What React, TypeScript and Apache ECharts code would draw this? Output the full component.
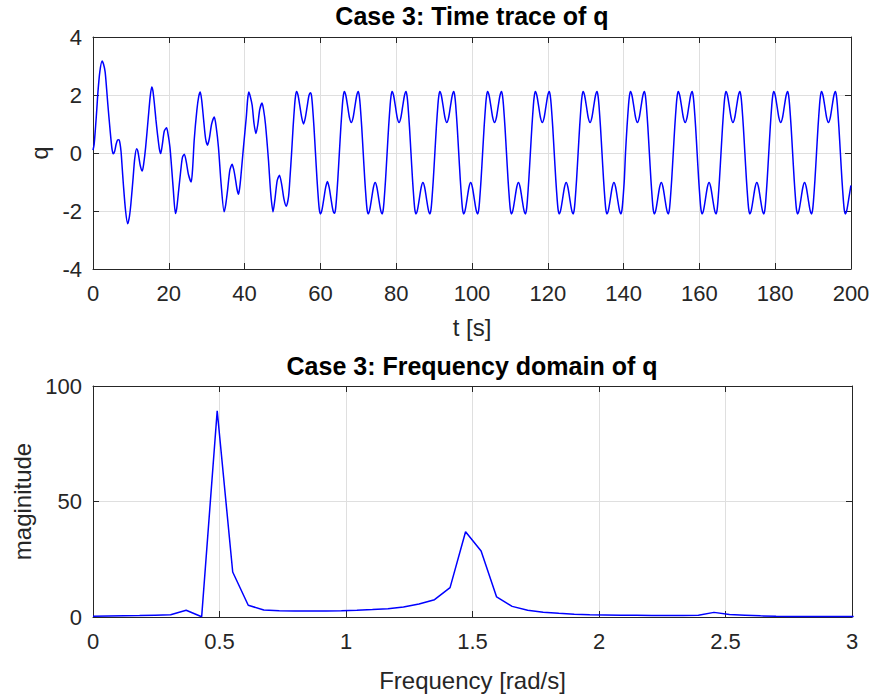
import React, { useEffect, useRef } from "react";
import * as echarts from "echarts";

const FONT = "'Liberation Sans', Arial, Helvetica, sans-serif";

// ---- Top plot: time trace of q, [t (s), q] ----
const transient: [number, number][] = [
  [0, 0.1], [0.3, 0.3], [0.7, 0.95], [1.0, 1.5], [1.3, 2.1], [1.8, 2.8], [2.4, 3.17], [2.8, 3.05], [3.2, 2.8], [3.6, 2.2],
  [3.9, 1.7], [4.5, 0.8], [5.0, 0.15], [5.35, -0.03], [5.7, 0.05], [6.1, 0.3], [6.5, 0.45], [6.85, 0.46], [7.1, 0.35], [7.4, 0.05],
  [7.7, -0.5], [8.0, -1.06], [8.6, -2.0], [9.15, -2.44], [9.6, -2.2], [10.0, -1.75], [10.6, -0.83], [11.0, -0.2], [11.5, 0.15], [11.8, 0.08],
  [12.1, -0.14], [12.5, -0.45], [13.0, -0.62], [13.4, -0.35], [13.9, 0.21], [14.6, 1.24], [15.1, 1.95], [15.5, 2.28], [15.8, 2.15], [16.2, 1.7],
  [16.6, 1.15], [17.0, 0.67], [17.5, 0.15], [17.85, -0.02], [18.3, 0.3], [18.8, 0.75], [19.4, 0.87], [19.8, 0.65], [20.3, 0.2], [20.8, -0.6],
  [21.2, -1.29], [21.75, -2.09], [22.1, -1.9], [22.6, -1.29], [23.2, -0.55], [23.6, -0.15], [24.1, -0.04], [24.6, -0.3], [25.2, -0.75], [25.9, -1.0],
  [26.3, -0.5], [26.7, 0.44], [27.4, 1.47], [27.9, 1.95], [28.3, 2.1], [28.7, 1.8], [29.2, 1.13], [29.7, 0.5], [30.2, 0.27], [30.7, 0.5],
  [31.3, 1.0], [32.0, 1.24], [32.5, 0.9], [33.1, 0.2], [33.8, -1.06], [34.6, -2.03], [35.0, -1.8], [35.5, -1.29], [36.1, -0.6], [36.7, -0.39],
  [37.1, -0.55], [37.5, -0.83], [38.0, -1.25], [38.4, -1.42], [38.7, -1.2], [39.0, -0.83], [39.7, 0.2], [40.45, 1.24], [40.8, 1.85], [41.1, 2.1],
  [41.5, 1.95], [42.0, 1.64], [42.5, 1.0], [43.0, 0.67], [43.5, 1.0], [44.0, 1.5], [44.6, 1.72], [45.0, 1.5], [45.5, 1.0], [46.3, -0.25],
  [46.9, -1.4], [47.5, -2.03], [48.0, -1.6], [48.6, -0.95], [49.2, -0.77], [49.8, -1.1], [50.4, -1.6], [51.0, -1.84], [51.6, -1.5], [52.0, -0.8],
];

const cycle01: [number, number][] = [
  [52.4, 0], [52.8, 0.9], [53.2, 1.65], [53.45, 1.98], [53.7, 2.12], [54.1, 1.99], [54.6, 1.6], [55.1, 1.2], [55.55, 1.0], [56.0, 1.2],
  [56.5, 1.6], [57.0, 1.99], [57.4, 2.08], [57.65, 1.98], [57.9, 1.65], [58.3, 0.9], [58.7, 0], [59.1, -0.9], [59.5, -1.65], [59.75, -1.98],
  [60.0, -2.1], [60.4, -1.97], [60.9, -1.58], [61.4, -1.18], [61.85, -0.98], [62.3, -1.18], [62.8, -1.58], [63.3, -1.97], [63.7, -2.08], [63.95, -1.98],
  [64.2, -1.65], [64.6, -0.9],
];
const cycle02: [number, number][] = [
  [65.0, 0], [65.4, 0.9], [65.8, 1.65], [66.05, 1.98], [66.3, 2.12], [66.7, 1.99], [67.2, 1.6], [67.7, 1.2], [68.15, 1.05], [68.6, 1.2],
  [69.1, 1.6], [69.6, 1.99], [70.0, 2.12], [70.25, 1.98], [70.5, 1.65], [70.9, 0.9], [71.3, 0], [71.7, -0.9], [72.1, -1.65], [72.35, -1.98],
  [72.6, -2.1], [73.0, -1.97], [73.5, -1.58], [74.0, -1.18], [74.45, -1.02], [74.9, -1.18], [75.4, -1.58], [75.9, -1.97], [76.3, -2.1], [76.55, -1.98],
  [76.8, -1.65], [77.2, -0.9],
];
const cycle03: [number, number][] = [
  [77.6, 0], [78.0, 0.9], [78.4, 1.65], [78.65, 1.98], [78.9, 2.12], [79.3, 1.99], [79.8, 1.6], [80.3, 1.2], [80.75, 1.05], [81.2, 1.2],
  [81.7, 1.6], [82.2, 1.99], [82.6, 2.12], [82.85, 1.98], [83.1, 1.65], [83.5, 0.9], [83.9, 0], [84.3, -0.9], [84.7, -1.65], [84.95, -1.98],
  [85.2, -2.1], [85.6, -1.97], [86.1, -1.58], [86.6, -1.18], [87.05, -1.02], [87.5, -1.18], [88.0, -1.58], [88.5, -1.97], [88.9, -2.1], [89.15, -1.98],
  [89.4, -1.65], [89.8, -0.9],
];
const cycle04: [number, number][] = [
  [90.2, 0], [90.6, 0.9], [91.0, 1.65], [91.25, 1.98], [91.5, 2.12], [91.9, 1.99], [92.4, 1.6], [92.9, 1.2], [93.35, 1.05], [93.8, 1.2],
  [94.3, 1.6], [94.8, 1.99], [95.2, 2.12], [95.45, 1.98], [95.7, 1.65], [96.1, 0.9], [96.5, 0], [96.9, -0.9], [97.3, -1.65], [97.55, -1.98],
  [97.8, -2.1], [98.2, -1.97], [98.7, -1.58], [99.2, -1.18], [99.65, -1.02], [100.1, -1.18], [100.6, -1.58], [101.1, -1.97], [101.5, -2.1], [101.75, -1.98],
  [102.0, -1.65], [102.4, -0.9],
];
const cycle05: [number, number][] = [
  [102.8, 0], [103.2, 0.9], [103.6, 1.65], [103.85, 1.98], [104.1, 2.12], [104.5, 1.99], [105.0, 1.6], [105.5, 1.2], [105.95, 1.05], [106.4, 1.2],
  [106.9, 1.6], [107.4, 1.99], [107.8, 2.12], [108.05, 1.98], [108.3, 1.65], [108.7, 0.9], [109.1, 0], [109.5, -0.9], [109.9, -1.65], [110.15, -1.98],
  [110.4, -2.1], [110.8, -1.97], [111.3, -1.58], [111.8, -1.18], [112.25, -1.02], [112.7, -1.18], [113.2, -1.58], [113.7, -1.97], [114.1, -2.1], [114.35, -1.98],
  [114.6, -1.65], [115.0, -0.9],
];
const cycle06: [number, number][] = [
  [115.4, 0], [115.8, 0.9], [116.2, 1.65], [116.45, 1.98], [116.7, 2.12], [117.1, 1.99], [117.6, 1.6], [118.1, 1.2], [118.55, 1.05], [119.0, 1.2],
  [119.5, 1.6], [120.0, 1.99], [120.4, 2.12], [120.65, 1.98], [120.9, 1.65], [121.3, 0.9], [121.7, 0], [122.1, -0.9], [122.5, -1.65], [122.75, -1.98],
  [123.0, -2.1], [123.4, -1.97], [123.9, -1.58], [124.4, -1.18], [124.85, -1.02], [125.3, -1.18], [125.8, -1.58], [126.3, -1.97], [126.7, -2.1], [126.95, -1.98],
  [127.2, -1.65], [127.6, -0.9],
];
const cycle07: [number, number][] = [
  [128.0, 0], [128.4, 0.9], [128.8, 1.65], [129.05, 1.98], [129.3, 2.12], [129.7, 1.99], [130.2, 1.6], [130.7, 1.2], [131.15, 1.05], [131.6, 1.2],
  [132.1, 1.6], [132.6, 1.99], [133.0, 2.12], [133.25, 1.98], [133.5, 1.65], [133.9, 0.9], [134.3, 0], [134.7, -0.9], [135.1, -1.65], [135.35, -1.98],
  [135.6, -2.1], [136.0, -1.97], [136.5, -1.58], [137.0, -1.18], [137.45, -1.02], [137.9, -1.18], [138.4, -1.58], [138.9, -1.97], [139.3, -2.1], [139.55, -1.98],
  [139.8, -1.65], [140.2, -0.9],
];
const cycle08: [number, number][] = [
  [140.5, 0], [140.9, 0.9], [141.3, 1.65], [141.55, 1.98], [141.8, 2.12], [142.2, 1.99], [142.7, 1.6], [143.2, 1.2], [143.65, 1.05], [144.1, 1.2],
  [144.6, 1.6], [145.1, 1.99], [145.5, 2.12], [145.75, 1.98], [146.0, 1.65], [146.4, 0.9], [146.8, 0], [147.2, -0.9], [147.6, -1.65], [147.85, -1.98],
  [148.1, -2.1], [148.5, -1.97], [149.0, -1.58], [149.5, -1.18], [149.95, -1.02], [150.4, -1.18], [150.9, -1.58], [151.4, -1.97], [151.8, -2.1], [152.05, -1.98],
  [152.3, -1.65], [152.7, -0.9],
];
const cycle09: [number, number][] = [
  [153.1, 0], [153.5, 0.9], [153.9, 1.65], [154.15, 1.98], [154.4, 2.12], [154.8, 1.99], [155.3, 1.6], [155.8, 1.2], [156.25, 1.05], [156.7, 1.2],
  [157.2, 1.6], [157.7, 1.99], [158.1, 2.12], [158.35, 1.98], [158.6, 1.65], [159.0, 0.9], [159.4, 0], [159.8, -0.9], [160.2, -1.65], [160.45, -1.98],
  [160.7, -2.1], [161.1, -1.97], [161.6, -1.58], [162.1, -1.18], [162.55, -1.02], [163.0, -1.18], [163.5, -1.58], [164.0, -1.97], [164.4, -2.1], [164.65, -1.98],
  [164.9, -1.65], [165.3, -0.9],
];
const cycle10: [number, number][] = [
  [165.7, 0], [166.1, 0.9], [166.5, 1.65], [166.75, 1.98], [167.0, 2.12], [167.4, 1.99], [167.9, 1.6], [168.4, 1.2], [168.85, 1.05], [169.3, 1.2],
  [169.8, 1.6], [170.3, 1.99], [170.7, 2.12], [170.95, 1.98], [171.2, 1.65], [171.6, 0.9], [172.0, 0], [172.4, -0.9], [172.8, -1.65], [173.05, -1.98],
  [173.3, -2.1], [173.7, -1.97], [174.2, -1.58], [174.7, -1.18], [175.15, -1.02], [175.6, -1.18], [176.1, -1.58], [176.6, -1.97], [177.0, -2.1], [177.25, -1.98],
  [177.5, -1.65], [177.9, -0.9],
];
const cycle11: [number, number][] = [
  [178.3, 0], [178.7, 0.9], [179.1, 1.65], [179.35, 1.98], [179.6, 2.12], [180.0, 1.99], [180.5, 1.6], [181.0, 1.2], [181.45, 1.05], [181.9, 1.2],
  [182.4, 1.6], [182.9, 1.99], [183.3, 2.12], [183.55, 1.98], [183.8, 1.65], [184.2, 0.9], [184.6, 0], [185.0, -0.9], [185.4, -1.65], [185.65, -1.98],
  [185.9, -2.1], [186.3, -1.97], [186.8, -1.58], [187.3, -1.18], [187.75, -1.02], [188.2, -1.18], [188.7, -1.58], [189.2, -1.97], [189.6, -2.1], [189.85, -1.98],
  [190.1, -1.65], [190.5, -0.9],
];
const cycle12: [number, number][] = [
  [190.9, 0], [191.3, 0.9], [191.7, 1.65], [191.95, 1.98], [192.2, 2.12], [192.6, 1.99], [193.1, 1.6], [193.6, 1.2], [194.05, 1.05], [194.5, 1.2],
  [195.0, 1.6], [195.5, 1.99], [195.9, 2.12], [196.15, 1.98], [196.4, 1.65], [196.8, 0.9], [197.2, 0], [197.6, -0.9], [198.0, -1.65], [198.25, -1.98],
  [198.5, -2.1], [198.9, -1.97], [199.4, -1.58], [199.9, -1.18], [200.0, -1.12],
];

// ---- Bottom plot: frequency domain of q ----
const freqRad = [
  0, 0.0614, 0.1227, 0.1841, 0.2454, 0.3068, 0.3682, 0.4295, 0.4909, 0.5522,
  0.6136, 0.675, 0.7363, 0.7977, 0.859, 0.9204, 0.9817, 1.0431, 1.1045, 1.1658,
  1.2272, 1.2885, 1.3499, 1.4113, 1.4726, 1.534, 1.5953, 1.6567, 1.7181, 1.7794,
  1.8408, 1.9021, 1.9635, 2.0249, 2.0862, 2.1476, 2.2089, 2.2703, 2.3317, 2.393,
  2.4544, 2.5157, 2.5771, 2.6385, 2.6998, 2.7612, 2.8225, 2.8839, 2.9452, 3.0066,
];
const magnitude = [
  0.3, 0.4, 0.5, 0.6, 0.8, 1.0, 2.9, 0.1, 89.3, 19.5,
  5.1, 3.0, 2.7, 2.6, 2.6, 2.6, 2.7, 2.9, 3.2, 3.6,
  4.3, 5.6, 7.5, 12.7, 36.9, 28.6, 8.7, 4.6, 2.9, 2.1,
  1.6, 1.2, 1.0, 0.9, 0.8, 0.8, 0.7, 0.7, 0.7, 0.8,
  2.0, 1.1, 0.8, 0.5, 0.3, 0.2, 0.2, 0.2, 0.2, 0.2,
];

const timeTicks = { min: 0, max: 200, interval: 20 };
const qTicks = { min: -4, max: 4, interval: 2 };
const freqTicks = { min: 0, max: 3, interval: 0.5 };
const magTicks = { min: 0, max: 100, interval: 50 };

const AX = "#262626";
const GRID = "#dfdfdf";
const TICK_FS = 22;
const LABEL_FS = 24;

function mainXAxis(gridIndex: number, t: any, name: string, nameGap: number) {
  return {
    type: "value", gridIndex, position: "bottom", ...t,
    name, nameLocation: "middle", nameGap,
    nameTextStyle: { fontSize: LABEL_FS, color: AX, fontFamily: FONT },
    axisLine: { show: true, onZero: false, lineStyle: { color: AX, width: 1 } },
    axisTick: { show: true, inside: true, length: 6, lineStyle: { color: AX } },
    axisLabel: { fontSize: TICK_FS, color: AX, margin: 13, fontFamily: FONT },
    splitLine: { show: true, lineStyle: { color: GRID, width: 1 } },
  };
}
function edgeXAxis(gridIndex: number, t: any) {
  return {
    type: "value", gridIndex, position: "top", ...t,
    axisLine: { show: true, onZero: false, lineStyle: { color: AX, width: 1 } },
    axisTick: { show: true, inside: true, length: 6, lineStyle: { color: AX } },
    axisLabel: { show: false },
    splitLine: { show: false },
  };
}
function mainYAxis(gridIndex: number, t: any, name: string, nameGap: number) {
  return {
    type: "value", gridIndex, position: "left", ...t,
    name, nameLocation: "middle", nameGap, nameRotate: 90,
    nameTextStyle: { fontSize: LABEL_FS, color: AX, fontFamily: FONT },
    axisLine: { show: true, onZero: false, lineStyle: { color: AX, width: 1 } },
    axisTick: { show: true, inside: true, length: 6, lineStyle: { color: AX } },
    axisLabel: { fontSize: TICK_FS, color: AX, margin: 11, fontFamily: FONT },
    splitLine: { show: true, lineStyle: { color: GRID, width: 1 } },
  };
}
function edgeYAxis(gridIndex: number, t: any) {
  return {
    type: "value", gridIndex, position: "right", ...t,
    axisLine: { show: true, onZero: false, lineStyle: { color: AX, width: 1 } },
    axisTick: { show: true, inside: true, length: 6, lineStyle: { color: AX } },
    axisLabel: { show: false },
    splitLine: { show: false },
  };
}

export default function App() {
  const ref = useRef<HTMLDivElement>(null);
  useEffect(() => {
    document.body.style.margin = "0";
    if (!ref.current) return;
    const chart = echarts.init(ref.current, undefined, { renderer: "svg" });
    const qTrace = ([] as [number, number][]).concat(
      transient, cycle01, cycle02, cycle03, cycle04, cycle05, cycle06,
      cycle07, cycle08, cycle09, cycle10, cycle11, cycle12
    );
    const spectrum = freqRad.map((f, i) => [f, magnitude[i]]);
    chart.setOption({
      animation: false,
      backgroundColor: "#ffffff",
      textStyle: { fontFamily: FONT },
      grid: [
        { left: 93, right: 23, top: 37, height: 232 },
        { left: 93, right: 22, top: 386, height: 231 },
      ],
      xAxis: [
        mainXAxis(0, timeTicks, "t [s]", 46),
        edgeXAxis(0, timeTicks),
        mainXAxis(1, freqTicks, "Frequency [rad/s]", 51),
        edgeXAxis(1, freqTicks),
      ],
      yAxis: [
        mainYAxis(0, qTicks, "q", 41),
        edgeYAxis(0, qTicks),
        mainYAxis(1, magTicks, "maginitude", 56),
        edgeYAxis(1, magTicks),
      ],
      graphic: [
        {
          type: "text", silent: true,
          style: { text: "Case 3: Time trace of q", x: 472, y: 16, align: "center", verticalAlign: "middle", fontSize: 25, fontWeight: "bold", fontFamily: FONT, fill: "#000" },
        },
        {
          type: "text", silent: true,
          style: { text: "Case 3: Frequency domain of q", x: 472, y: 366, align: "center", verticalAlign: "middle", fontSize: 25, fontWeight: "bold", fontFamily: FONT, fill: "#000" },
        },
      ],
      series: [
        {
          type: "line", xAxisIndex: 0, yAxisIndex: 0, data: qTrace,
          showSymbol: false, smooth: 0.25, clip: true,
          lineStyle: { color: "#0000ff", width: 1.5 },
        },
        {
          type: "line", xAxisIndex: 2, yAxisIndex: 2, data: spectrum,
          showSymbol: false, clip: true,
          lineStyle: { color: "#0000ff", width: 1.5 },
        },
      ],
    });
    return () => chart.dispose();
  }, []);
  return <div ref={ref} style={{ width: 874, height: 699 }} />;
}
